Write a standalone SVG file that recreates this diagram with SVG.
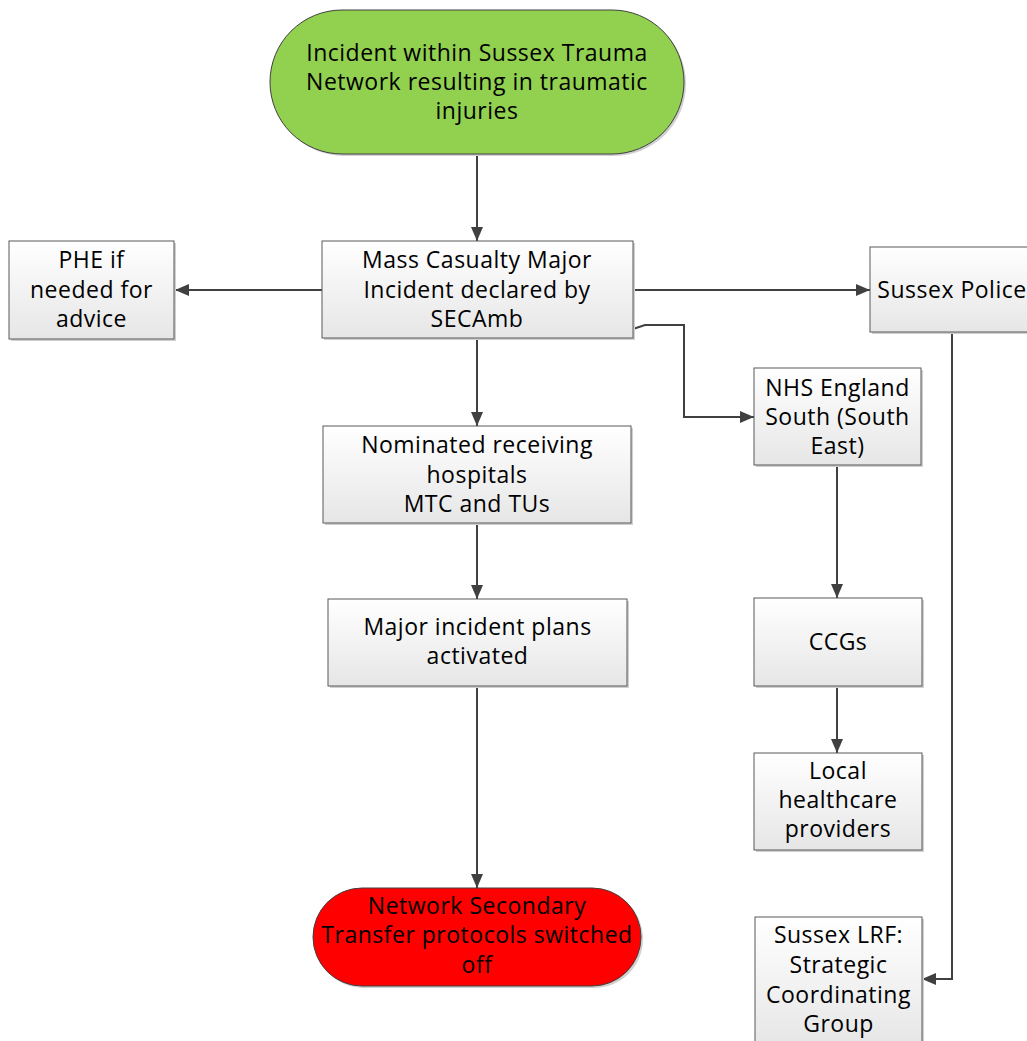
<svg xmlns="http://www.w3.org/2000/svg" width="1027" height="1041" viewBox="0 0 1027 1041">
<defs>
<linearGradient id="boxgrad" x1="0" y1="0" x2="0" y2="1">
<stop offset="0" stop-color="#ffffff"/>
<stop offset="1" stop-color="#e6e6e6"/>
</linearGradient>
<marker id="arrow" viewBox="0 0 14 12" refX="14" refY="6" markerWidth="14" markerHeight="12" markerUnits="userSpaceOnUse" orient="auto">
<path d="M0,0 L14,6 L0,12 Z" fill="#404040"/>
</marker>
</defs>
<style>
.box{fill:url(#boxgrad);stroke:#595959;stroke-width:1}
.shadow{fill:#d0d0d0;stroke:none}
.term{stroke:#404040;stroke-width:1}
.t{font-family:"Open Sans","Liberation Sans",sans-serif;font-size:23px;letter-spacing:0.5px;fill:#000;text-anchor:middle}
.c{fill:none;stroke:#404040;stroke-width:2;marker-end:url(#arrow)}
</style>
<rect width="1027" height="1041" fill="#ffffff"/>

<g id="connectors">
<path class="c" d="M477,154 L477,241"/>
<path class="c" d="M322,290 L175,290"/>
<path class="c" d="M633,290 L870,290"/>
<path class="c" d="M477,338 L477,426"/>
<path class="c" d="M633,329 L645,325 L684,325 L684,417 L754,417"/>
<path class="c" d="M477,523 L477,599"/>
<path class="c" d="M477,686 L477,888"/>
<path class="c" d="M837,465 L837,598"/>
<path class="c" d="M837,686 L837,753"/>
<path class="c" d="M952,332 L952,979 L922,979"/>
</g>

<g id="start">
<rect class="shadow" x="272" y="12" width="414" height="144" rx="72" ry="72"/>
<rect class="term" x="270" y="10" width="414" height="144" rx="72" ry="72" fill="#92d050"/>
<text class="t"><tspan x="477" y="61">Incident within Sussex Trauma</tspan><tspan x="477" y="90">Network resulting in traumatic</tspan><tspan x="477" y="119">injuries</tspan></text>
</g>

<g id="mass">
<rect class="shadow" x="324" y="243" width="311" height="97"/>
<rect class="box" x="322" y="241" width="311" height="97"/>
<text class="t"><tspan x="477" y="268">Mass Casualty Major</tspan><tspan x="477" y="298">Incident declared by</tspan><tspan x="477" y="327">SECAmb</tspan></text>
</g>

<g id="phe">
<rect class="shadow" x="11" y="243" width="165" height="98"/>
<rect class="box" x="9" y="241" width="165" height="98"/>
<text class="t"><tspan x="91.5" y="268">PHE if</tspan><tspan x="91.5" y="298">needed for</tspan><tspan x="91.5" y="327">advice</tspan></text>
</g>

<g id="police">
<rect class="shadow" x="872" y="249" width="165" height="85"/>
<rect class="box" x="870" y="247" width="165" height="85"/>
<text class="t"><tspan x="952" y="298">Sussex Police</tspan></text>
</g>

<g id="nhs">
<rect class="shadow" x="756" y="370" width="167" height="97"/>
<rect class="box" x="754" y="368" width="167" height="97"/>
<text class="t"><tspan x="837.5" y="396">NHS England</tspan><tspan x="837.5" y="425">South (South</tspan><tspan x="837.5" y="454">East)</tspan></text>
</g>

<g id="nominated">
<rect class="shadow" x="325" y="428" width="308" height="97"/>
<rect class="box" x="323" y="426" width="308" height="97"/>
<text class="t"><tspan x="477" y="453">Nominated receiving</tspan><tspan x="477" y="483">hospitals</tspan><tspan x="477" y="512">MTC and TUs</tspan></text>
</g>

<g id="plans">
<rect class="shadow" x="330" y="601" width="299" height="87"/>
<rect class="box" x="328" y="599" width="299" height="87"/>
<text class="t"><tspan x="477.5" y="635">Major incident plans</tspan><tspan x="477.5" y="664">activated</tspan></text>
</g>

<g id="ccgs">
<rect class="shadow" x="756" y="600" width="168" height="88"/>
<rect class="box" x="754" y="598" width="168" height="88"/>
<text class="t"><tspan x="838" y="650">CCGs</tspan></text>
</g>

<g id="local">
<rect class="shadow" x="756" y="755" width="168" height="97"/>
<rect class="box" x="754" y="753" width="168" height="97"/>
<text class="t"><tspan x="838" y="779">Local</tspan><tspan x="838" y="808">healthcare</tspan><tspan x="838" y="837">providers</tspan></text>
</g>

<g id="end">
<rect class="shadow" x="315" y="890" width="328" height="98" rx="49" ry="49"/>
<rect class="term" x="313" y="888" width="328" height="98" rx="49" ry="49" fill="#ff0000"/>
<text class="t"><tspan x="477" y="914">Network Secondary</tspan><tspan x="477" y="943">Transfer protocols switched</tspan><tspan x="477" y="973">off</tspan></text>
</g>

<g id="lrf">
<rect class="shadow" x="757" y="919" width="167" height="130"/>
<rect class="box" x="755" y="917" width="167" height="130"/>
<text class="t"><tspan x="838.5" y="943">Sussex LRF:</tspan><tspan x="838.5" y="973">Strategic</tspan><tspan x="838.5" y="1003">Coordinating</tspan><tspan x="838.5" y="1032">Group</tspan></text>
</g>
</svg>
